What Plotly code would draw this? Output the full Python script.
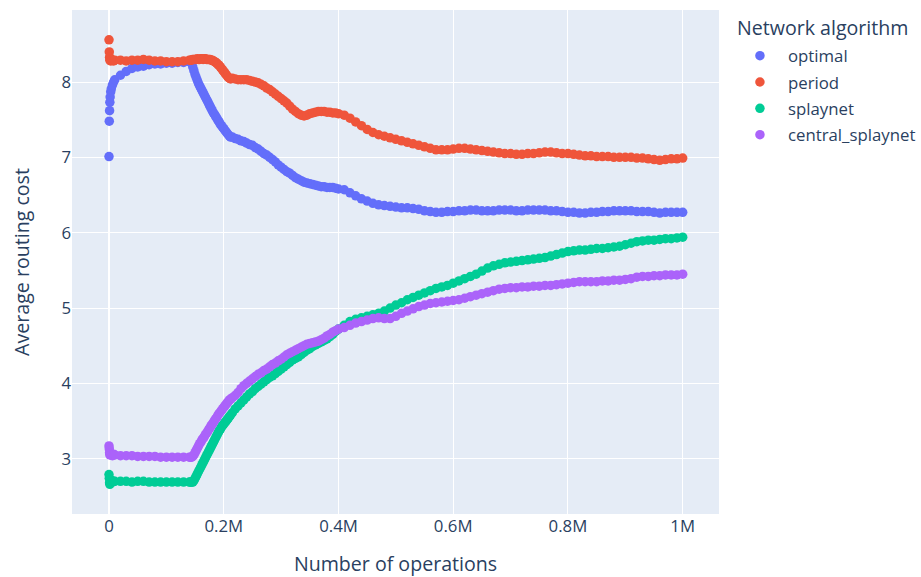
import plotly.graph_objects as go

# Sampling positions (number of operations): dense near the start and
# around the 0.15M-0.21M transition, coarser afterwards.
ops = ([0, 500, 1000, 1500, 2000, 3000, 4000, 6000, 8000, 10000]
       + list(range(20000, 140001, 10000))
       + list(range(142000, 212001, 2000))
       + list(range(215000, 400001, 5000))
       + list(range(410000, 1000001, 10000)))

optimal = [
    7.01, 7.48, 7.62, 7.73, 7.80, 7.87, 7.91, 7.96, 8.00, 8.03,
    8.09, 8.14, 8.18, 8.20, 8.21, 8.23, 8.24, 8.24, 8.25, 8.25, 8.26, 8.26, 8.27,
    8.27, 8.25, 8.20, 8.15, 8.10, 8.06, 8.02, 7.98, 7.95, 7.92, 7.89, 7.86,
    7.83, 7.80, 7.77, 7.74, 7.71, 7.68, 7.65, 7.62, 7.59, 7.57, 7.54, 7.52,
    7.49, 7.47, 7.44, 7.42, 7.40, 7.38, 7.36, 7.34, 7.32, 7.30, 7.28, 7.27,
    7.27, 7.25, 7.24, 7.22, 7.21, 7.19, 7.17, 7.16, 7.13, 7.11, 7.08, 7.05,
    7.03, 7.00, 6.97, 6.94, 6.90, 6.87, 6.84, 6.81, 6.79, 6.76, 6.73, 6.71,
    6.69, 6.67, 6.66, 6.65, 6.64, 6.63, 6.62, 6.61, 6.61, 6.60, 6.60, 6.60,
    6.59, 6.58,
    6.57, 6.53, 6.49, 6.45, 6.42, 6.39, 6.37, 6.36, 6.35, 6.34,
    6.33, 6.33, 6.32, 6.31, 6.29, 6.28, 6.27, 6.27, 6.28, 6.28,
    6.29, 6.29, 6.30, 6.30, 6.29, 6.29, 6.29, 6.30, 6.30, 6.30,
    6.29, 6.29, 6.30, 6.30, 6.30, 6.30, 6.29, 6.29, 6.28, 6.27,
    6.27, 6.26, 6.26, 6.27, 6.27, 6.28, 6.28, 6.29, 6.29, 6.29,
    6.29, 6.28, 6.28, 6.28, 6.27, 6.26, 6.27, 6.27, 6.27, 6.27,
]

period = [
    8.56, 8.40, 8.33, 8.29, 8.31, 8.28, 8.30, 8.29, 8.28, 8.29,
    8.29, 8.28, 8.29, 8.29, 8.30, 8.29, 8.28, 8.28, 8.27, 8.27, 8.27, 8.28, 8.29,
    8.29, 8.29, 8.30, 8.30, 8.30, 8.30, 8.31, 8.30, 8.30, 8.31, 8.31, 8.30,
    8.31, 8.31, 8.30, 8.30, 8.30, 8.30, 8.29, 8.29, 8.28, 8.27, 8.26, 8.25,
    8.23, 8.22, 8.20, 8.18, 8.16, 8.14, 8.12, 8.10, 8.08, 8.06, 8.05, 8.04,
    8.05, 8.04, 8.03, 8.03, 8.03, 8.03, 8.02, 8.01, 8.00, 7.99, 7.97, 7.95,
    7.92, 7.90, 7.87, 7.84, 7.81, 7.78, 7.75, 7.72, 7.68, 7.64, 7.61, 7.58,
    7.56, 7.55, 7.56, 7.58, 7.59, 7.60, 7.61, 7.61, 7.61, 7.60, 7.60, 7.59,
    7.59, 7.58,
    7.56, 7.52, 7.47, 7.42, 7.37, 7.33, 7.30, 7.28, 7.26, 7.24,
    7.22, 7.20, 7.18, 7.16, 7.14, 7.12, 7.10, 7.10, 7.10, 7.11,
    7.12, 7.12, 7.11, 7.10, 7.09, 7.08, 7.07, 7.06, 7.05, 7.05,
    7.04, 7.04, 7.05, 7.05, 7.06, 7.07, 7.07, 7.06, 7.05, 7.05,
    7.04, 7.03, 7.02, 7.02, 7.01, 7.01, 7.01, 7.00, 7.00, 7.00,
    7.00, 6.99, 6.99, 6.98, 6.97, 6.96, 6.97, 6.98, 6.98, 6.99,
]

splaynet = [
    2.79, 2.74, 2.68, 2.66, 2.70, 2.72, 2.70, 2.69, 2.70, 2.70,
    2.70, 2.70, 2.69, 2.70, 2.70, 2.69, 2.69, 2.69, 2.69, 2.69, 2.69, 2.69, 2.69,
    2.69, 2.69, 2.69, 2.71, 2.74, 2.77, 2.80, 2.83, 2.86, 2.89, 2.92, 2.95,
    2.98, 3.01, 3.04, 3.07, 3.10, 3.13, 3.16, 3.19, 3.22, 3.25, 3.28, 3.31,
    3.34, 3.37, 3.39, 3.42, 3.44, 3.46, 3.48, 3.50, 3.52, 3.54, 3.56, 3.58,
    3.61, 3.66, 3.70, 3.74, 3.78, 3.82, 3.86, 3.89, 3.93, 3.96, 3.99, 4.02,
    4.05, 4.08, 4.10, 4.13, 4.16, 4.19, 4.22, 4.25, 4.28, 4.31, 4.33, 4.35,
    4.38, 4.41, 4.44, 4.46, 4.49, 4.51, 4.53, 4.55, 4.57, 4.59, 4.62, 4.65,
    4.69, 4.72,
    4.77, 4.82, 4.85, 4.87, 4.89, 4.91, 4.93, 4.96, 5.00, 5.04,
    5.07, 5.11, 5.14, 5.17, 5.20, 5.23, 5.26, 5.28, 5.30, 5.33,
    5.36, 5.39, 5.42, 5.45, 5.49, 5.53, 5.56, 5.58, 5.60, 5.61,
    5.62, 5.63, 5.64, 5.65, 5.66, 5.67, 5.69, 5.71, 5.73, 5.75,
    5.76, 5.77, 5.77, 5.78, 5.79, 5.79, 5.80, 5.81, 5.82, 5.84,
    5.86, 5.88, 5.89, 5.90, 5.90, 5.91, 5.92, 5.92, 5.93, 5.94,
]

central_splaynet = [
    3.17, 3.13, 3.08, 3.05, 3.07, 3.06, 3.05, 3.04, 3.06, 3.05,
    3.04, 3.04, 3.04, 3.03, 3.03, 3.03, 3.03, 3.02, 3.02, 3.02, 3.02, 3.02, 3.02,
    3.02, 3.02, 3.03, 3.05, 3.08, 3.11, 3.14, 3.17, 3.20, 3.22, 3.25, 3.27,
    3.29, 3.32, 3.34, 3.36, 3.39, 3.41, 3.44, 3.46, 3.48, 3.51, 3.53, 3.55,
    3.58, 3.60, 3.62, 3.64, 3.66, 3.68, 3.70, 3.72, 3.74, 3.76, 3.78, 3.79,
    3.81, 3.84, 3.88, 3.93, 3.97, 4.00, 4.03, 4.06, 4.09, 4.12, 4.14, 4.17,
    4.19, 4.22, 4.25, 4.27, 4.30, 4.32, 4.35, 4.38, 4.40, 4.42, 4.44, 4.46,
    4.48, 4.50, 4.52, 4.53, 4.54, 4.55, 4.56, 4.58, 4.60, 4.63, 4.65, 4.68,
    4.70, 4.72,
    4.74, 4.77, 4.80, 4.82, 4.84, 4.86, 4.87, 4.86, 4.86, 4.89,
    4.93, 4.96, 4.99, 5.02, 5.04, 5.06, 5.07, 5.08, 5.09, 5.10,
    5.11, 5.13, 5.15, 5.17, 5.19, 5.21, 5.23, 5.25, 5.26, 5.27,
    5.27, 5.28, 5.28, 5.29, 5.29, 5.30, 5.30, 5.31, 5.32, 5.33,
    5.34, 5.35, 5.35, 5.35, 5.35, 5.36, 5.36, 5.37, 5.37, 5.38,
    5.39, 5.41, 5.42, 5.42, 5.43, 5.43, 5.44, 5.44, 5.44, 5.45,
]

series = [
    ("optimal", optimal, "#636efa"),
    ("period", period, "#EF553B"),
    ("splaynet", splaynet, "#00cc96"),
    ("central_splaynet", central_splaynet, "#ab63fa"),
]

fig = go.Figure()
for name, values, color in series:
    fig.add_trace(go.Scatter(
        x=ops, y=values, mode="markers", name=name, legendgroup=name,
        marker=dict(color=color, size=9.5),
    ))

fig.update_layout(
    template="plotly",
    width=921, height=577, autosize=False,
    margin=dict(l=72, r=202, t=10, b=63, autoexpand=False),
    font=dict(family='"Open Sans", verdana, arial, sans-serif', size=16.8, color="#2a3f5f"),
    legend=dict(
        font=dict(size=16.8),
        itemwidth=46,
        tracegroupgap=1.5,
        x=1.02, xanchor="left",
        y=0.944, yanchor="top",
    ),
    annotations=[dict(
        text="Network algorithm", xref="paper", yref="paper",
        x=1.024, y=1.0, xanchor="left", yanchor="top", yshift=-2,
        showarrow=False, font=dict(size=19.6),
    )],
    xaxis=dict(
        title=dict(text="Number of operations", font=dict(size=19.6), standoff=32),
        range=[-64500, 1063300], dtick=200000,
    ),
    yaxis=dict(
        title=dict(text="Average routing cost", font=dict(size=19.6), standoff=26),
        range=[2.266, 8.956], dtick=1,
    ),
)

fig.write_html("out.html")
